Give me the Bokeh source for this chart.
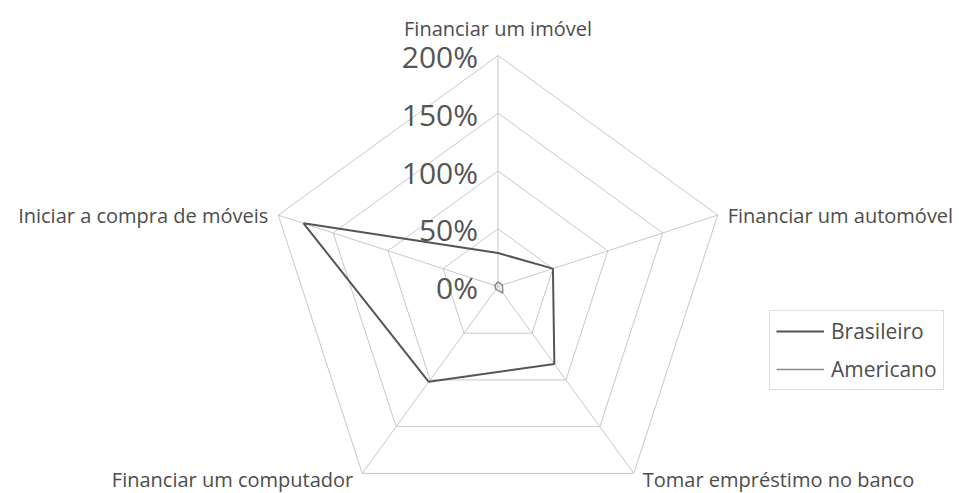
import numpy as np
from bokeh.plotting import figure
from bokeh.models import Range1d
from bokeh.embed import file_html
from bokeh.resources import INLINE
from bokeh.core.properties import value

# ---------------- data ----------------
categories = ["Financiar um imóvel", "Financiar um automóvel", "Tomar empréstimo no banco",
              "Financiar um computador", "Iniciar a compra de móveis"]
brasileiro = [29, 50, 83, 102, 177]
americano = [4, 4, 7, 3, 3]
ring_values = [0, 50, 100, 150, 200]
ring_labels = ["0%", "50%", "100%", "150%", "200%"]
series_names = ["Brasileiro", "Americano"]

# ---------------- layout ----------------
W, H = 959, 493
CX, CY = 497.5, 286.0          # center in frame px (from top-left)
RMAX_PX = 231.0
RMAX = 200.0
k = RMAX_PX / RMAX

p = figure(width=W, height=H, output_backend="svg", toolbar_location=None,
           x_range=Range1d(-CX / k, (W - CX) / k), y_range=Range1d(-(H - CY) / k, CY / k),
           min_border=0, min_border_left=0, min_border_right=0, min_border_top=0, min_border_bottom=0)
p.xaxis.visible = False
p.yaxis.visible = False
p.grid.visible = False
p.outline_line_color = None
p.background_fill_color = "white"
p.border_fill_color = "white"

n = len(categories)
angles = np.pi / 2 - 2 * np.pi * np.arange(n) / n

def poly(vals):
    v = np.asarray(vals, dtype=float)
    xs = v * np.cos(angles)
    ys = v * np.sin(angles)
    return np.append(xs, xs[0]), np.append(ys, ys[0])

GRID = "#c8c8c8"
TXT = "#4d4d4d"
FONT = "Open Sans"

# rings
for rv in ring_values[1:]:
    xs, ys = poly([rv] * n)
    p.line(xs, ys, line_color=GRID, line_width=1)
# spokes
ox, oy = poly([RMAX] * n)
p.segment(x0=[0] * n, y0=[0] * n, x1=list(ox[:-1]), y1=list(oy[:-1]), line_color=GRID, line_width=1)

# series
bx, by = poly(brasileiro)
p.line(bx, by, line_color="#555555", line_width=2, legend_label=series_names[0])
ax_, ay_ = poly(americano)
p.line(ax_, ay_, line_color="#8a8a8a", line_width=1.5, legend_label=series_names[1])

# tick labels
p.text(x=[0] * len(ring_values), y=ring_values, text=ring_labels,
       text_align="right", text_baseline="middle", x_offset=-20, y_offset=1,
       text_font=value(FONT), text_font_size="30px", text_color="#555555")

# category labels
styles = [
    dict(align="center", baseline="bottom", dx=0, dy=-14),
    dict(align="left", baseline="middle", dx=10, dy=0),
    dict(align="left", baseline="top", dx=9, dy=-7),
    dict(align="right", baseline="top", dx=-9, dy=-7),
    dict(align="right", baseline="middle", dx=-10, dy=0),
]
for i in range(n):
    s = styles[i]
    p.text(x=[ox[i]], y=[oy[i]], text=[categories[i]], text_align=s["align"],
           text_baseline=s["baseline"], x_offset=s["dx"], y_offset=s["dy"],
           text_font=value(FONT), text_font_size="20px", text_color=TXT)

leg = p.legend[0]
leg.location = (769, 103)
leg.border_line_color = "#bbbbbb"
leg.border_line_width = 1
leg.background_fill_color = "white"
leg.background_fill_alpha = 1
leg.label_text_font = FONT
leg.label_text_font_size = "21px"
leg.label_text_color = TXT
leg.glyph_width = 48
leg.glyph_height = 24
leg.label_height = 24
leg.label_standoff = 7
leg.padding = 6
leg.spacing = 10
leg.margin = 0

open("out.html", "w").write(file_html(p, INLINE))
